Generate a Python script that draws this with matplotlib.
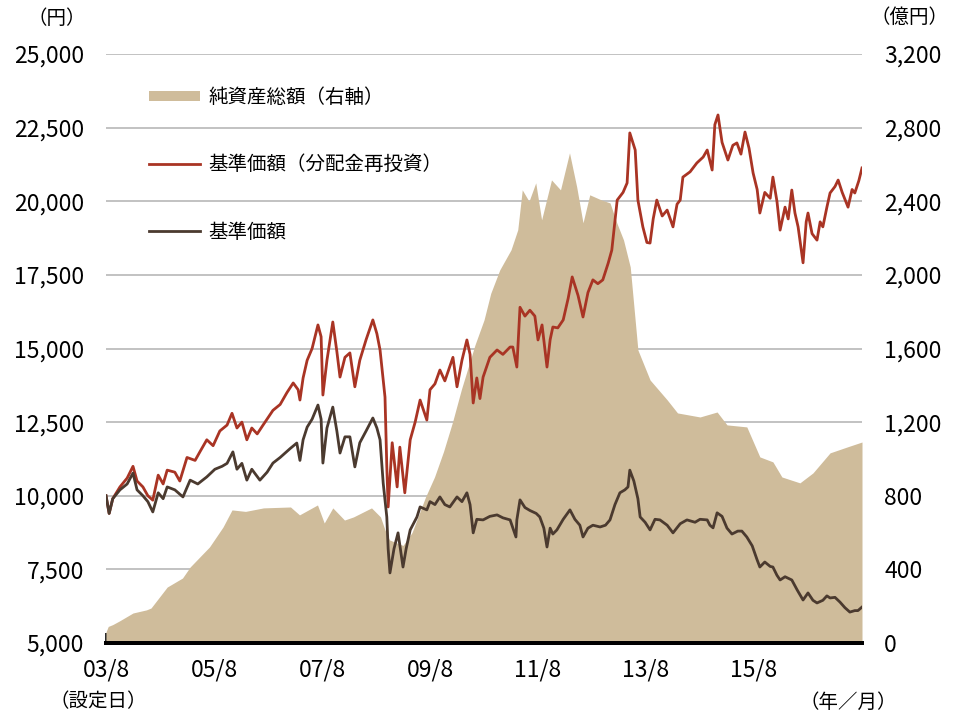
import matplotlib
matplotlib.use("Agg")
import matplotlib.pyplot as plt
from matplotlib.patches import Patch
from matplotlib.lines import Line2D

plt.rcParams['font.family'] = ['Noto Sans CJK JP', 'DejaVu Sans']

# 経過月数(03/8 = 0)
tick_months = [0, 24, 48, 72, 96, 120, 144]
tick_labels = ['03/8', '05/8', '07/8', '09/8', '11/8', '13/8', '15/8']

# 基準価額(分配金再投資) 円
reinv_t = [0, 0.7, 1.5, 3.1, 4.7, 6, 6.9, 8.2, 9.3, 10.4, 11.6, 12.7, 13.6, 15.3, 16.4, 18, 19.8, 20.9,
           22.4, 23.8, 25.3, 26.9, 28, 29.1, 30.2, 31.3, 32.4, 33.6, 34.9, 37.1, 38.7, 40.2, 41.6, 42.7,
           43.1, 43.8, 44.7, 45.8, 47.1, 47.8, 48.2, 49.1, 50.4, 51.3, 52, 53.1, 54.2, 55.3, 56.4, 57.8,
           59.3, 60.2, 60.9, 62, 62.4, 62.7, 63.6, 64.7, 65.3, 66.4, 67.6, 68.7, 69.8, 71.3, 72, 73.1,
           74.2, 75.3, 77.1, 78, 79.1, 80.2, 80.9, 81.6, 82.4, 83.1, 83.8, 85.3, 86.9, 88.2, 89.8, 90.4,
           91.3, 92, 93.1, 94.2, 95.3, 96, 96.9, 98, 98.7, 99.3, 100.4, 101.6, 102.7, 103.6, 104.9, 106,
           107.1, 108.2, 109.3, 110.4, 111.6, 112.4, 113.6, 114.9, 115.8, 116.4, 117.6, 118.2, 119.3,
           120.2, 120.9, 121.6, 122.4, 123.6, 124.7, 126, 126.9, 127.6, 128.2, 129.8, 131.3, 132.7,
           133.6, 134.7, 135.3, 136, 136.9, 138.2, 139.3, 140.2, 141.1, 142, 142.9, 143.8, 144.7, 145.3,
           146.4, 147.6, 148.2, 149.1, 149.8, 150.9, 151.6, 152.4, 153.1, 153.8, 154.9, 155.6, 156,
           156.9, 158, 158.7, 159.3, 160.2, 160.9, 162, 162.7, 163.6, 164.9, 165.8, 166.4, 167.3, 168]
reinv_v = [10000, 9400, 9900, 10300, 10600, 11000, 10500, 10300, 10000, 9850, 10700, 10400, 10870,
           10800, 10500, 11300, 11200, 11500, 11900, 11700, 12200, 12400, 12800, 12300, 12500, 11900,
           12300, 12100, 12400, 12900, 13100, 13500, 13830, 13600, 13250, 14000, 14600, 15000, 15800,
           15400, 13420, 14600, 15900, 14900, 14030, 14700, 14850, 13700, 14600, 15300, 15970, 15500,
           14950, 13350, 11000, 9620, 11800, 10300, 11650, 10100, 11900, 12500, 13250, 12570, 13600,
           13800, 14270, 13900, 14700, 13700, 14600, 15290, 14800, 13150, 14000, 13300, 14030, 14700,
           14950, 14800, 15050, 15050, 14370, 16400, 16100, 16300, 16100, 15290, 15800, 14370, 15300,
           15730, 15700, 15970, 16700, 17430, 16800, 16070, 16900, 17330, 17200, 17330, 17900, 18340,
           20040, 20300, 20620, 22320, 21740, 20040, 19130, 18600, 18580, 19400, 20040, 19500, 19700,
           19130, 19900, 20040, 20820, 21000, 21300, 21500, 21740, 21060, 22600, 22930, 22000, 21400,
           21900, 21980, 21600, 22350, 21800, 20960, 20400, 19600, 20300, 20100, 20820, 20000, 19020,
           19800, 19400, 20380, 19600, 19130, 17910, 19300, 19600, 18900, 18680, 19300, 19130, 19800,
           20280, 20500, 20720, 20300, 19800, 20400, 20280, 20700, 21130]

# 基準価額 円
nav_t = [0, 0.7, 1.5, 3.1, 4.7, 6, 6.9, 8.2, 9.3, 10.4, 11.6, 12.7, 13.6, 15.3, 17.1, 18.7, 20.4, 22.4,
         24.2, 25.8, 26.9, 28.2, 29.1, 30.2, 31.3, 32.4, 34.2, 35.8, 37.1, 38.7, 40.9, 42.4, 43.1, 43.8,
         44.7, 45.8, 47.1, 47.8, 48.2, 49.1, 50.4, 51.3, 52, 53.1, 54.2, 55.3, 56.4, 57.8, 59.3, 60.2,
         60.9, 61.6, 62.4, 62.7, 63.1, 64, 64.9, 66, 66.7, 67.6, 69.1, 69.8, 71.3, 72, 73.1, 74.2, 75.3,
         76.4, 78, 79.1, 80.2, 80.9, 81.6, 82.4, 83.8, 85.3, 86.9, 88.2, 89.8, 91.1, 91.3, 92, 93.1,
         94.2, 95.6, 96.4, 97.3, 98, 98.7, 99.3, 100.2, 101.6, 103.1, 104.2, 105.3, 106, 107.1, 108.2,
         109.8, 111, 112, 113.1, 114.2, 115.3, 116, 116.4, 117.3, 118.2, 118.7, 119.8, 120.9, 122,
         123.1, 124.7, 126, 127.6, 129.1, 130.9, 132, 133.6, 134.2, 134.9, 135.8, 136.9, 138, 139.1,
         140.4, 141.3, 142.4, 143.6, 144.7, 145.3, 146.4, 147.6, 148.2, 149.1, 149.8, 150.9, 152.4,
         153.6, 154.9, 156, 157.1, 158, 159.3, 160.2, 160.9, 162, 163.1, 164.2, 165.3, 166.4, 167.1, 168]
nav_v = [10000, 9400, 9900, 10200, 10400, 10770, 10200, 10000, 9800, 9450, 10100, 9900, 10300, 10200,
         9960, 10530, 10400, 10640, 10900, 11000, 11100, 11490, 10900, 11100, 10530, 10900, 10530,
         10800, 11110, 11300, 11600, 11790, 11200, 11900, 12330, 12600, 13080, 12600, 11110, 12300,
         13010, 12200, 11450, 12000, 12000, 10980, 11800, 12200, 12640, 12300, 11900, 10430, 9280,
         8200, 7380, 8200, 8740, 7580, 8200, 8840, 9280, 9620, 9520, 9800, 9700, 9960, 9700, 9620,
         9960, 9800, 10100, 9700, 8740, 9200, 9180, 9300, 9350, 9250, 9180, 8600, 9180, 9860, 9600,
         9500, 9400, 9280, 8900, 8260, 8900, 8700, 8840, 9200, 9520, 9200, 9000, 8600, 8900, 9000,
         8940, 9000, 9180, 9700, 10100, 10200, 10300, 10870, 10500, 9900, 9280, 9100, 8840, 9200,
         9180, 9000, 8740, 9050, 9180, 9100, 9200, 9180, 9000, 8910, 9420, 9300, 8900, 8700, 8800,
         8800, 8600, 8300, 7820, 7580, 7750, 7600, 7580, 7300, 7140, 7250, 7140, 6800, 6460, 6700,
         6450, 6360, 6450, 6600, 6530, 6550, 6390, 6200, 6050, 6100, 6100, 6220]

# 純資産総額 億円
aum_t = [0, 0.5, 1.5, 3, 6, 9, 10, 13.6, 17, 18.7, 23, 26, 28, 31, 35, 41, 43, 47, 48.5, 50.4, 53, 55,
         59, 61, 62, 63, 66, 68, 71, 73, 75, 77, 79, 82, 84, 85.5, 87.5, 90, 91.5, 92.5, 94, 95.5, 96.8,
         99, 101, 103, 104.6, 106, 107.5, 110, 112, 113.5, 115, 116.5, 118.2, 120.9, 124.7, 127, 132,
         135.8, 138, 142.4, 145.3, 148.2, 150.2, 154.2, 157.1, 160.9, 164.7, 168]
aum_v = [60, 90, 100, 120, 163, 180, 190, 304, 353, 413, 522, 630, 723, 715, 734, 739, 696, 750, 652,
         734, 668, 685, 734, 685, 614, 560, 530, 600, 793, 902, 1040, 1200, 1380, 1620, 1755, 1900, 2027,
         2136, 2245, 2462, 2400, 2500, 2299, 2516, 2462, 2663, 2478, 2283, 2435, 2408, 2391, 2283, 2190,
         2043, 1592, 1429, 1321, 1250, 1228, 1255, 1185, 1174, 1011, 984, 902, 870, 924, 1033, 1065, 1092]

c_area = '#cfbc9b'
c_reinv = '#a93424'
c_nav = '#4b3a2f'

fig = plt.figure(figsize=(9.6, 7.13), dpi=100)
ax = fig.add_axes([106 / 960, 1 - 643 / 713, (862 - 106) / 960, (643 - 54) / 713])
ax2 = ax.twinx()

# 右軸(面グラフ)を下の軸へ
ax.fill_between(aum_t, aum_v, 0, color=c_area, linewidth=0, zorder=2)
ax.set_ylim(0, 3200)
ax.set_yticks(range(0, 3201, 400))
ax.set_yticklabels([f'{v:,}' for v in range(0, 3201, 400)])
ax.yaxis.tick_right()
ax.set_axisbelow(True)
ax.grid(axis='y', color='#bdbdbd', linewidth=1.3)

ax2.plot(reinv_t, reinv_v, color=c_reinv, linewidth=2.0, zorder=3)
ax2.plot(nav_t, nav_v, color=c_nav, linewidth=2.0, zorder=4)
ax2.set_ylim(5000, 25000)
ax2.set_yticks(range(5000, 25001, 2500))
ax2.set_yticklabels([f'{v:,}' for v in range(5000, 25001, 2500)])
ax2.yaxis.tick_left()

ax.set_xlim(0, 168)
ax.set_xticks(tick_months)
ax.set_xticklabels(tick_labels)

for a in (ax, ax2):
    for s in ('top', 'left', 'right'):
        a.spines[s].set_visible(False)
    a.spines['bottom'].set_linewidth(2.8)
    a.tick_params(axis='y', length=0, labelsize=16.5, pad=16)
ax.tick_params(axis='x', direction='in', length=7, width=1.2, labelsize=16.5, pad=11)

fig.text(57 / 960, 1 - 19 / 713, '（円）', fontsize=14, ha='center', va='center')
fig.text(910 / 960, 1 - 17 / 713, '（億円）', fontsize=14, ha='center', va='center')
fig.text(98 / 960, 1 - 702 / 713, '（設定日）', fontsize=14, ha='center', va='center')
fig.text(848 / 960, 1 - 702 / 713, '（年／月）', fontsize=14, ha='center', va='center')

handles = [Patch(facecolor=c_area, edgecolor='none'),
           Line2D([], [], color=c_reinv, linewidth=2.0),
           Line2D([], [], color=c_nav, linewidth=2.0)]
labels = ['純資産総額（右軸）', '基準価額（分配金再投資）', '基準価額']
leg = ax2.legend(handles, labels, loc='upper left', bbox_to_anchor=((149 - 106) / 756, (643 - 87) / 589),
                 frameon=False, borderpad=0, borderaxespad=0, fontsize=14, handlelength=2.6,
                 handleheight=0.45, labelspacing=2.38, handletextpad=0.45)

fig.savefig('out.png', dpi=100)
